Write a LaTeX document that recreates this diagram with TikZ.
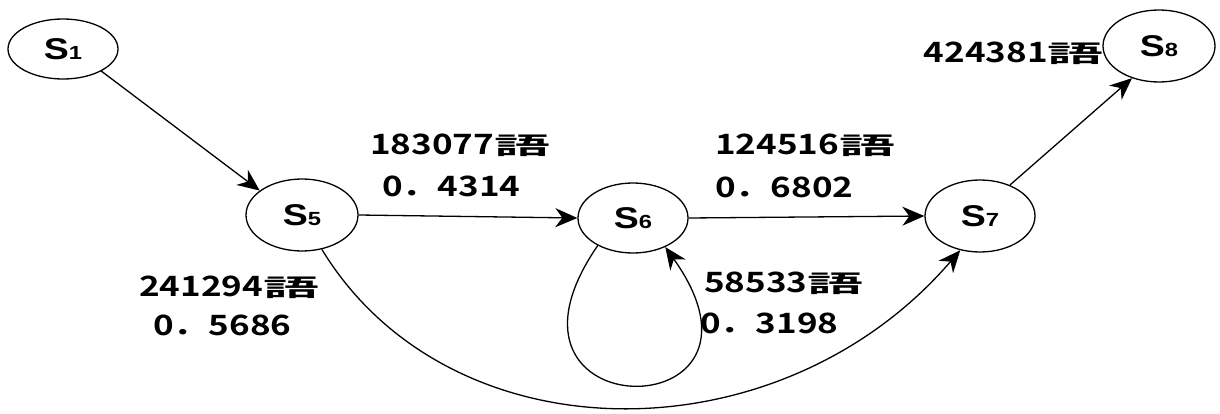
\documentclass[tikz,border=0pt]{standalone}
\usepackage{fontspec}
\usetikzlibrary{arrows.meta,shapes.geometric}
\newfontfamily\cjkb{Noto Sans CJK JP Bold}
\newfontfamily\sfnt{Liberation Sans Bold}
\newcommand\gowd{\scalebox{1.6}[0.85]{語}}
\newcommand\lbltxt[1]{\scalebox{1.25}[1]{#1}}
\newcommand\stxt[1]{\scalebox{1.25}[1]{\fontsize{30}{30}\selectfont S\fontsize{19}{19}\selectfont #1}}
\begin{document}
\begin{tikzpicture}[x=1pt,y=-1pt,
  st/.style={ellipse,draw,line width=1.3pt,inner sep=0pt,font=\sfnt},
  lbl/.style={anchor=west,inner sep=0pt,font=\cjkb\fontsize{28}{28}\selectfont},
  edge/.style={line width=1.3pt,-{Stealth[length=22pt,width=19pt,inset=7pt]}}]
\useasboundingbox (0,0) rectangle (1220,414);
\node[st,minimum width=110pt,minimum height=60pt] (S1) at (63,49) {\stxt{1}};
\node[st,minimum width=112pt,minimum height=72pt] (S5) at (302,215) {\stxt{5}};
\node[st,minimum width=110pt,minimum height=70pt] (S6) at (633,218) {\stxt{6}};
\node[st,minimum width=110pt,minimum height=72pt] (S7) at (980,216) {\stxt{7}};
\node[st,minimum width=112pt,minimum height=72pt] (S8) at (1159,46) {\stxt{8}};
\draw[edge] (S1.-30) -- (S5.150);
\draw[edge] (S5.east) -- (S6.west);
\draw[edge] (S6.east) -- (S7.west);
\draw[edge] (S7.46) -- (S8.230);
\draw[edge] (S5.-60) .. controls (450,460) and (780,460) .. (S7.-120);
\draw[edge] (S6.218) .. controls (470,431) and (796,431) .. (S6.-42);
\node[lbl] (a1) at (370,145) {\lbltxt{183077\gowd}};
\node[lbl] (a2) at (382,186) {\lbltxt{0．4314}};
\node[lbl] (b1) at (715,145) {\lbltxt{124516\gowd}};
\node[lbl] (b2) at (715,187) {\lbltxt{0．6802}};
\node[lbl] (c1) at (139,287) {\lbltxt{241294\gowd}};
\node[lbl] (c2) at (153,325) {\lbltxt{0．5686}};
\node[lbl] (d1) at (704,283) {\lbltxt{58533\gowd}};
\node[lbl] (d2) at (700,323) {\lbltxt{0．3198}};
\node[lbl,anchor=east] (e1) at (1104,53) {\lbltxt{424381\gowd}};
\end{tikzpicture}
\end{document}
